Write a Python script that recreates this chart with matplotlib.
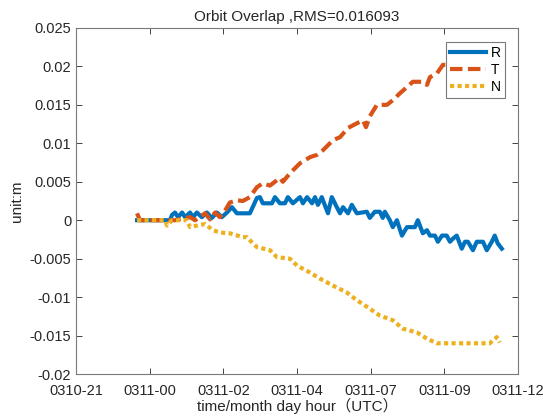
import numpy as np
import matplotlib.pyplot as plt
from matplotlib.ticker import FuncFormatter

plt.rcParams['font.family'] = ['Liberation Sans', 'Noto Sans CJK SC', 'DejaVu Sans']

# time axis: hours after 0310-21:00
tick_hours = [0, 2.5, 5, 7.5, 10, 12.5, 15]
tick_labels = ['0310-21', '0311-00', '0311-02', '0311-04', '0311-07', '0311-09', '0311-12']

# R component (m)
r_t = [2.07, 3.19, 3.26, 3.36, 3.46, 3.60, 3.70, 3.87, 3.97, 4.10, 4.27, 4.44, 4.61, 4.78,
       4.95, 5.12, 5.29, 5.46, 5.66, 5.90, 6.14, 6.24, 6.34, 6.65, 6.75, 6.92, 7.09, 7.19,
       7.36, 7.60, 7.70, 7.84, 8.01, 8.11, 8.21, 8.34, 8.55, 8.68, 8.85, 8.96, 9.06, 9.23,
       9.36, 9.53, 9.87, 9.97, 10.14, 10.31, 10.41, 10.48, 10.65, 10.75, 10.89, 11.06, 11.23,
       11.50, 11.60, 11.77, 11.91, 12.01, 12.18, 12.28, 12.42, 12.58, 12.69, 12.79, 12.92,
       13.09, 13.20, 13.30, 13.47, 13.60, 13.81, 13.94, 14.11, 14.21, 14.31, 14.45]
r_val = [0, 0, 0.0007, 0.0010, 0.0004, 0.0010, 0.0004, 0.0010, 0.0004, 0.0010, 0.0004, 0.0010,
         0.0003, 0.0010, 0.0004, 0.0010, 0.0017, 0.0009, 0.0009, 0.0009, 0.0029, 0.0030, 0.0022,
         0.0022, 0.0030, 0.0022, 0.0022, 0.0030, 0.0022, 0.0030, 0.0022, 0.0030, 0.0022, 0.0030,
         0.0020, 0.0030, 0.0009, 0.0030, 0.0017, 0.0009, 0.0017, 0.0009, 0.0020, 0.0009, 0.0011,
         0.0003, 0.0011, 0.0011, 0.0003, 0.0011, 0, -0.0009, 0, -0.0020, -0.0009, -0.0009, 0,
         -0.0017, -0.0013, -0.0020, -0.0020, -0.0028, -0.0020, -0.0020, -0.0028, -0.0024,
         -0.0020, -0.0037, -0.0028, -0.0028, -0.0039, -0.0028, -0.0028, -0.0039, -0.0028,
         -0.0020, -0.0030, -0.0037]

# T component (m)
t_t = [2.07, 2.17, 3.36, 3.87, 4.04, 4.38, 4.55, 4.72, 4.88, 5.05, 5.22, 5.46, 5.66, 5.90,
       6.14, 6.34, 6.58, 6.92, 7.02, 7.26, 7.60, 7.94, 8.18, 8.38, 8.72, 8.96, 9.23, 9.53,
       9.74, 9.84, 9.97, 10.21, 10.55, 10.75, 10.99, 11.23, 11.43, 11.77, 11.91, 12.01,
       12.25, 12.45, 12.79, 13.36, 13.70, 14.48]
t_val = [0.0009, 0, 0, 0.0004, 0, 0.0009, 0.0001, 0.0010, 0.0004, 0.0012, 0.0023, 0.0026,
         0.0025, 0.0030, 0.0043, 0.0048, 0.0045, 0.0055, 0.0050, 0.0061, 0.0074, 0.0082,
         0.0085, 0.0091, 0.0104, 0.0108, 0.0120, 0.0126, 0.0130, 0.0121, 0.0135, 0.0150,
         0.0150, 0.0156, 0.0165, 0.0173, 0.0180, 0.0180, 0.0176, 0.0186, 0.0191, 0.0202,
         0.0202, 0.0202, 0.0203, 0.0203]

# N component (m)
n_t = [2.07, 3.02, 3.09, 3.26, 3.77, 3.87, 4.10, 4.38, 4.65, 4.88, 5.22, 5.66, 5.80, 6.00,
       6.14, 6.58, 6.82, 7.26, 7.50, 7.94, 8.28, 8.72, 9.19, 9.53, 9.97, 10.31, 10.75, 11.09,
       11.57, 11.91, 12.25, 12.58, 13.13, 14.04, 14.28, 14.38]
n_val = [0, 0, -0.0007, 0, 0, -0.0009, -0.0007, -0.0005, -0.0013, -0.0016, -0.0017, -0.0022,
         -0.0022, -0.0030, -0.0035, -0.0039, -0.0048, -0.0050, -0.0059, -0.0068, -0.0076,
         -0.0085, -0.0094, -0.0104, -0.0115, -0.0124, -0.0130, -0.0141, -0.0146, -0.0154,
         -0.0160, -0.0160, -0.0160, -0.0160, -0.0152, -0.0159]

fig = plt.figure(figsize=(5.43, 4.17), dpi=100)
ax = fig.add_axes([0.140, 0.103, 0.814, 0.830])

ax.plot(r_t, r_val, color='#0072BD', lw=3, label='R')
ax.plot(t_t, t_val, color='#D95319', lw=3, ls=(0, (3.0, 1.3)), label='T')
ax.plot(n_t, n_val, color='#EDB120', lw=3, ls=(0, (1.0, 0.8)), label='N')

ax.set_xlim(0, 15)
ax.set_ylim(-0.02, 0.025)
ax.set_xticks(tick_hours)
ax.set_xticklabels(tick_labels)
ax.set_yticks(np.arange(-0.02, 0.0251, 0.005))
ax.yaxis.set_major_formatter(FuncFormatter(lambda v, p: '%g' % round(v, 4)))
ax.tick_params(direction='in', top=True, right=True, labelsize=10.5,
               colors='#262626', length=4, width=0.6)
ax.tick_params(axis='x', pad=7)
for s in ax.spines.values():
    s.set_color('#7a7a7a')
    s.set_linewidth(0.8)

ax.set_title('Orbit Overlap ,RMS=0.016093', fontsize=11, color='#262626', pad=5)
ax.set_ylabel('unit:m', fontsize=11, color='#262626')
ax.set_xlabel('time/month day hour（UTC）', fontsize=11, color='#262626', labelpad=0)

leg = ax.legend(loc='upper right', bbox_to_anchor=(0.97, 0.96), fontsize=10,
                handlelength=2.6, handletextpad=0.3, borderpad=0.3, labelspacing=0.2,
                fancybox=False, framealpha=1, borderaxespad=0)
leg.get_frame().set_edgecolor('#7a7a7a')
leg.get_frame().set_linewidth(0.8)

fig.savefig('out.png', dpi=100)
